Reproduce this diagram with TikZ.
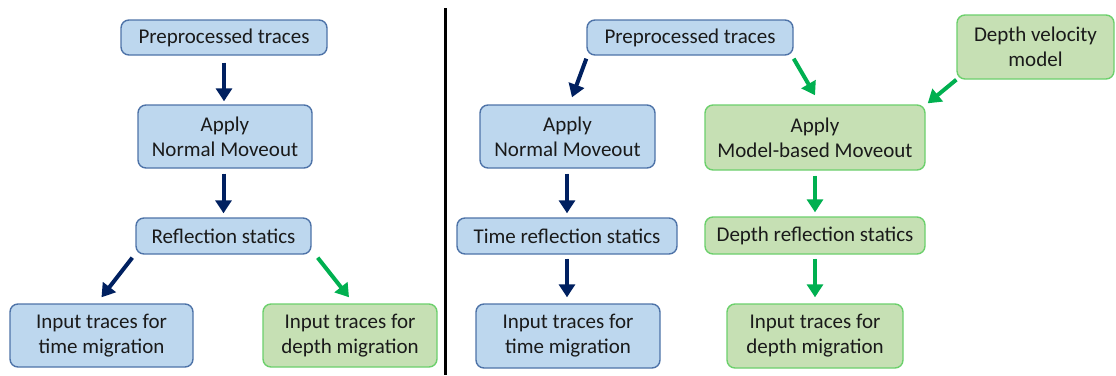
\documentclass[tikz,border=0pt]{standalone}
\usepackage{fontspec}
\setmainfont{Carlito}
\usetikzlibrary{arrows.meta,calc}
\definecolor{bfill}{HTML}{BDD7EE}
\definecolor{bdraw}{HTML}{4E73A8}
\definecolor{gfill}{HTML}{C6E0B4}
\definecolor{gdraw}{HTML}{6CD06C}
\definecolor{navy}{HTML}{002060}
\definecolor{garrow}{HTML}{00B050}
\definecolor{txt}{HTML}{1A1A1A}
\tikzset{
  box/.style={rectangle, rounded corners=8pt, line width=1.4pt, inner sep=0pt, align=center,
    text=txt, font=\fontsize{21}{25}\selectfont},
  bbox/.style={box, fill=bfill, draw=bdraw},
  gbox/.style={box, fill=gfill, draw=gdraw},
  arr/.style={line width=4pt, -{Triangle[width=16pt,length=13pt]}},
  barr/.style={arr, draw=navy, fill=navy},
  garr/.style={arr, draw=garrow, fill=garrow},
}
\begin{document}
\begin{tikzpicture}[x=1pt,y=-1pt]
\useasboundingbox (0,0) rectangle (1116,375);
% divider
\draw[line width=3pt] (445,8) -- (445,375);
% left panel
\node[bbox, minimum width=206pt, minimum height=35pt] (L1) at (224,37.5) {Preprocessed traces};
\node[bbox, minimum width=174pt, minimum height=63pt] (L2) at (225,136.5) {Apply\\Normal Moveout};
\node[bbox, minimum width=175pt, minimum height=36pt] (L3) at (223.5,236) {Reflection statics};
\node[bbox, minimum width=183pt, minimum height=63pt] (L4) at (101.5,335.5) {Input traces for\\time migration};
\node[gbox, minimum width=174pt, minimum height=63pt] (L5) at (350,335.5) {Input traces for\\depth migration};
\draw[barr, shorten <=7pt, shorten >=3pt] (L1.south) -- (L1.south |- L2.north);
\draw[barr, shorten <=5pt, shorten >=4pt] (L2.south -| L3.north) -- (L3.north);
\draw[barr] ([shift={(-3,3)}]L3.south west) -- ([shift={(0,-6)}]L4.north);
\draw[garr] ([shift={(6,3)}]L3.south east) -- ([shift={(-1,-6)}]L5.north);
% right panel
\node[bbox, minimum width=206pt, minimum height=35pt] (R1) at (690,37.5) {Preprocessed traces};
\node[gbox, minimum width=157pt, minimum height=64pt] (R2) at (1035.5,47) {Depth velocity\\model};
\node[bbox, minimum width=175pt, minimum height=63pt] (R3) at (567.5,136.5) {Apply\\Normal Moveout};
\node[gbox, minimum width=220pt, minimum height=65pt] (R4) at (815,137.5) {Apply\\Model-based Moveout};
\node[bbox, minimum width=220pt, minimum height=36pt] (R5) at (567,236) {Time reflection statics};
\node[gbox, minimum width=220pt, minimum height=37pt] (R6) at (815,235.5) {Depth reflection statics};
\node[bbox, minimum width=184pt, minimum height=64pt] (R7) at (568,336) {Input traces for\\time migration};
\node[gbox, minimum width=176pt, minimum height=64pt] (R8) at (815,336) {Input traces for\\depth migration};
\draw[barr] ([shift={(0,3)}]R1.south west) -- ([shift={(4.5,-7)}]R3.north);
\draw[garr] ([shift={(0,3)}]R1.south east) -- ([shift={(0,-9)}]R4.north);
\draw[garr] ([shift={(0,0)}]R2.south west) -- ([shift={(2,-1)}]R4.north east);
\draw[barr, shorten <=5pt, shorten >=4pt] (R3.south -| R5.north) -- (R5.north);
\draw[barr, shorten <=4pt, shorten >=6pt] (R5.south) -- (R5.south |- R7.north);
\draw[garr, shorten <=5pt, shorten >=4pt] (R4.south -| R6.north) -- (R6.north);
\draw[garr, shorten <=4pt, shorten >=6pt] (R6.south) -- (R6.south |- R8.north);
\end{tikzpicture}
\end{document}
